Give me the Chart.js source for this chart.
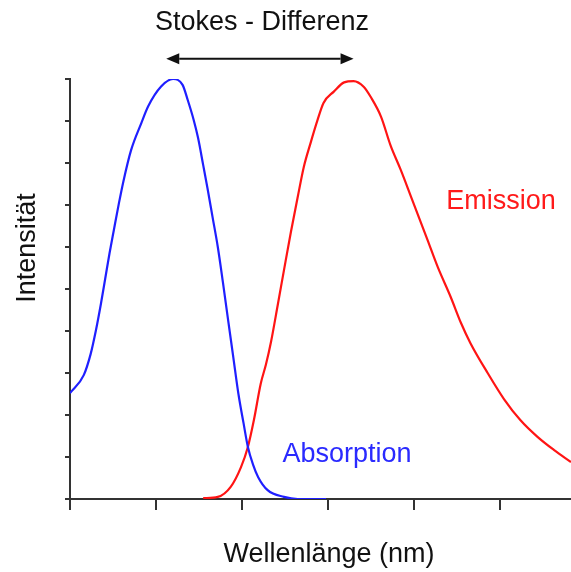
<!DOCTYPE html>
<html>
<head>
<meta charset="utf-8">
<script src="https://cdn.jsdelivr.net/npm/chart.js@4"></script>
<style>
  html, body { margin: 0; padding: 0; background: #fff; }
  #wrap { width: 571px; height: 572px; }
</style>
</head>
<body>
<div id="wrap"><canvas id="chart"></canvas></div>
<script>
// x in tick units (ticks without labels), y in tick units 0..10
const absorptionX = [0, 0.16, 0.24, 0.30, 0.36, 0.41, 0.46, 0.51, 0.57, 0.62, 0.71, 0.83, 0.91, 1.06, 1.20, 1.31, 1.37, 1.44, 1.49, 1.55, 1.60, 1.66, 1.72, 1.78, 1.84, 1.90, 1.96, 2.02, 2.07, 2.13, 2.19, 2.30, 2.49, 2.65, 2.98];
const absorptionY = [2.52, 2.95, 3.45, 4.00, 4.65, 5.25, 5.85, 6.40, 7.05, 7.55, 8.30, 8.95, 9.35, 9.82, 10.0, 9.86, 9.50, 9.02, 8.60, 7.95, 7.40, 6.70, 6.00, 5.15, 4.26, 3.38, 2.50, 1.80, 1.24, 0.82, 0.52, 0.21, 0.05, 0.0, 0.0];

const emissionX = [1.55, 1.72, 1.87, 1.99, 2.07, 2.14, 2.22, 2.28, 2.34, 2.42, 2.49, 2.57, 2.65, 2.72, 2.80, 2.88, 2.95, 3.07, 3.19, 3.30, 3.42, 3.50, 3.62, 3.73, 3.85, 3.97, 4.16, 4.28, 4.43, 4.55, 4.66, 4.86, 5.05, 5.24, 5.44, 5.63, 5.83];
const emissionY = [0.02, 0.05, 0.29, 0.76, 1.24, 1.88, 2.75, 3.20, 3.75, 4.65, 5.45, 6.35, 7.19, 7.90, 8.48, 9.02, 9.43, 9.70, 9.92, 9.95, 9.81, 9.57, 9.10, 8.42, 7.83, 7.19, 6.17, 5.52, 4.81, 4.19, 3.71, 3.00, 2.38, 1.88, 1.48, 1.17, 0.88];

// Stokes arrow from peak to peak
const stokesArrowX = [1.12, 3.30];
const stokesArrowY = 10.48;

const FONT = '"Liberation Sans", Arial, sans-serif';
const toPoints = (xs, ys) => xs.map((x, i) => ({ x: x, y: ys[i] }));

// labels and the arrow drawn on top
const annotations = {
  id: 'annotations',
  afterDraw(chart) {
    const ctx = chart.ctx;
    const xs = chart.scales.x, ys = chart.scales.y;
    ctx.save();
    ctx.font = '27px ' + FONT;
    ctx.textAlign = 'center';
    ctx.textBaseline = 'alphabetic';

    ctx.fillStyle = '#111';
    ctx.fillText('Stokes - Differenz', 262, 30);
    ctx.fillText('Wellenlänge (nm)', 329, 562);

    ctx.save();
    ctx.translate(35, 248);
    ctx.rotate(-Math.PI / 2);
    ctx.fillText('Intensität', 0, 0);
    ctx.restore();

    ctx.fillStyle = '#ff1a1a';
    ctx.fillText('Emission', 501, 209);
    ctx.fillStyle = '#2a2aff';
    ctx.fillText('Absorption', 347, 462);

    // double arrow
    const x1 = xs.getPixelForValue(stokesArrowX[0]);
    const x2 = xs.getPixelForValue(stokesArrowX[1]);
    const y = ys.getPixelForValue(stokesArrowY);
    const head = 13, half = 5.5;
    ctx.strokeStyle = '#111';
    ctx.fillStyle = '#111';
    ctx.lineWidth = 2;
    ctx.beginPath();
    ctx.moveTo(x1 + head, y);
    ctx.lineTo(x2 - head, y);
    ctx.stroke();
    ctx.beginPath();
    ctx.moveTo(x1, y); ctx.lineTo(x1 + head, y - half); ctx.lineTo(x1 + head, y + half);
    ctx.closePath(); ctx.fill();
    ctx.beginPath();
    ctx.moveTo(x2, y); ctx.lineTo(x2 - head, y - half); ctx.lineTo(x2 - head, y + half);
    ctx.closePath(); ctx.fill();
    ctx.restore();
  }
};

new Chart(document.getElementById('chart'), {
  type: 'line',
  data: {
    datasets: [
      {
        label: 'Absorption',
        data: toPoints(absorptionX, absorptionY),
        borderColor: '#1f1fff',
        borderWidth: 2.2,
        pointRadius: 0,
        cubicInterpolationMode: 'monotone'
      },
      {
        label: 'Emission',
        data: toPoints(emissionX, emissionY),
        borderColor: '#ff1414',
        borderWidth: 2.2,
        pointRadius: 0,
        cubicInterpolationMode: 'monotone'
      }
    ]
  },
  options: {
    responsive: true,
    maintainAspectRatio: false,
    animation: false,
    layout: { padding: { top: 79, right: 0, left: 0, bottom: 0 } },
    plugins: { legend: { display: false }, tooltip: { enabled: false } },
    scales: {
      x: {
        type: 'linear',
        min: 0,
        max: 5.83,
        ticks: { display: false, stepSize: 1, includeBounds: false },
        grid: { drawOnChartArea: false, tickLength: 11, color: '#333', lineWidth: 2 },
        border: { color: '#333', width: 2 },
        afterFit: s => { s.height = 73; }
      },
      y: {
        min: 0,
        max: 10,
        ticks: { display: false, stepSize: 1 },
        grid: { drawOnChartArea: false, tickLength: 5, color: '#333', lineWidth: 2 },
        border: { color: '#333', width: 2 },
        afterFit: s => { s.width = 70; }
      }
    }
  },
  plugins: [annotations]
});
</script>
</body>
</html>
